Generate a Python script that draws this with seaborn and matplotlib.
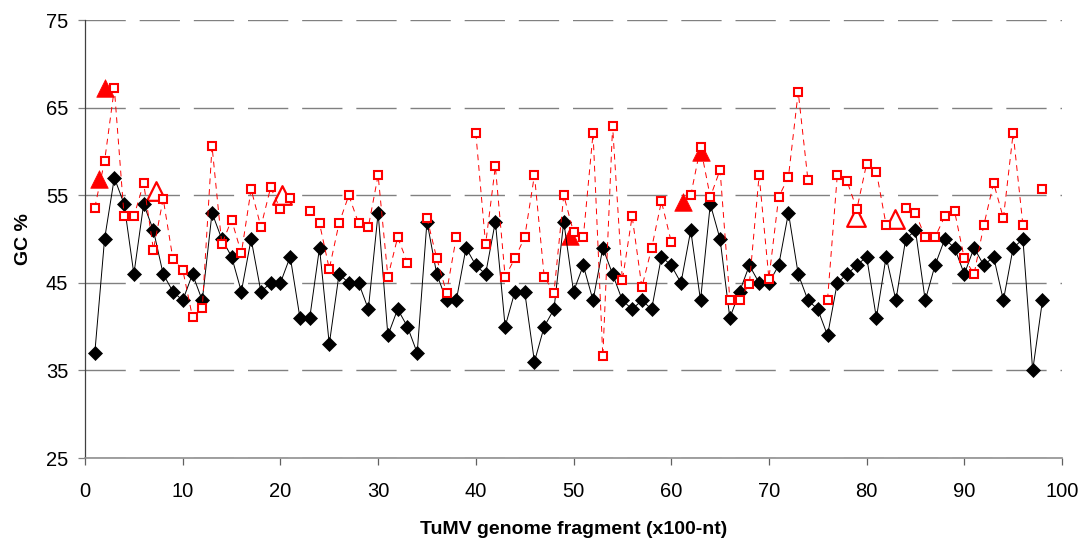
import numpy as np
import pandas as pd
import matplotlib
matplotlib.use('Agg')
import matplotlib.pyplot as plt
import seaborn as sns

# Fragment positions (x100-nt)
fragments = list(range(1, 99))

# GC % of the TuMV genome fragments (black diamonds)
gc_tumv = [37, 50, 57, 54, 46, 54, 51, 46, 44, 43,
           46, 43, 53, 50, 48, 44, 50, 44, 45, 45,
           48, 41, 41, 49, 38, 46, 45, 45, 42, 53,
           39, 42, 40, 37, 52, 46, 43, 43, 49, 47,
           46, 52, 40, 44, 44, 36, 40, 42, 52, 44,
           47, 43, 49, 46, 43, 42, 43, 42, 48, 47,
           45, 51, 43, 54, 50, 41, 44, 47, 45, 45,
           47, 53, 46, 43, 42, 39, 45, 46, 47, 48,
           41, 48, 43, 50, 51, 43, 47, 50, 49, 46,
           49, 47, 48, 43, 49, 50, 35, 43]

# Second GC % series (red open squares), None = no value
gc_other = [53.6, 58.9, 67.2, 52.6, 52.6, 56.4, 48.8, 54.6, 47.7, 46.5,
            41.1, 42.1, 60.6, 49.4, 52.2, 48.4, 55.7, 51.4, 55.9, 53.4,
            54.7, None, 53.2, 51.8, 46.6, 51.8, 55.0, 51.8, 51.4, 57.3,
            45.7, 50.2, 47.3, None, 52.4, 47.8, 43.9, 50.2, None, 62.1,
            49.4, 58.3, 45.7, 47.8, 50.2, 57.3, 45.7, 43.9, 55.0, 50.8,
            50.2, 62.1, 36.6, 62.9, 45.3, 52.6, 44.5, 49.0, 54.3, 49.7,
            None, 55.0, 60.5, 54.8, 57.9, 43.1, 43.1, 44.9, 57.3, 45.5,
            54.8, 57.1, 66.8, 56.7, None, 43.1, 57.3, 56.6, 53.4, 58.6,
            57.7, 51.6, None, 53.6, 53.0, 50.2, 50.2, 52.6, 53.2, 47.8,
            46.0, 51.6, 56.4, 52.4, 62.1, 51.6, None, 55.7]

# Filled and open red triangles
filled_x = [1.4, 2.0, 49.6, 61.2, 63.0]
filled_y = [56.9, 67.3, 50.4, 54.2, 60.0]
open_x = [7.3, 20.2, 78.9, 82.9]
open_y = [55.5, 55.0, 52.5, 52.3]

sns.set_style('white')
plt.rcParams['font.family'] = ['Liberation Sans', 'DejaVu Sans']
plt.rcParams['text.color'] = 'black'
plt.rcParams['axes.labelcolor'] = 'black'

df_black = pd.DataFrame({'fragment': fragments, 'gc': gc_tumv})

# keep the gaps in the red line: one unit per run of values
df_red = pd.DataFrame({'fragment': fragments,
                       'gc': [np.nan if v is None else v for v in gc_other]})
df_red['segment'] = df_red['gc'].isna().cumsum()
df_red = df_red.dropna()

fig = plt.figure(figsize=(10.86, 5.44), dpi=100)
ax = fig.add_axes([0.0783, 0.158, 0.8996, 0.805])

# triangles under the lines
sns.scatterplot(x=filled_x, y=filled_y, marker='^', s=160, color='red',
                edgecolor='red', linewidth=0.5, ax=ax, zorder=2)
sns.scatterplot(x=open_x, y=open_y, marker='^', s=180, facecolor='white',
                edgecolor='red', linewidth=1.6, ax=ax, zorder=2)

sns.lineplot(data=df_black, x='fragment', y='gc', estimator=None, color='black',
             linewidth=0.7, marker='D', markersize=6.8, markerfacecolor='black',
             markeredgecolor='black', markeredgewidth=0.5, ax=ax, zorder=3)

sns.lineplot(data=df_red, x='fragment', y='gc', units='segment', estimator=None,
             color='red', linewidth=0.7, linestyle=(0, (6, 5)), marker='s',
             markersize=6.2, markerfacecolor='white', markeredgecolor='red',
             markeredgewidth=1.5, ax=ax, zorder=4)

ax.set_xlim(0, 100)
ax.set_ylim(25, 75)
ax.set_xticks(range(0, 101, 10))
ax.set_yticks(range(25, 76, 10))

ax.yaxis.grid(True, color='#808080', linestyle=(0, (29, 10)), linewidth=1)
ax.xaxis.grid(False)
ax.set_axisbelow(True)

for side in ['top', 'right']:
    ax.spines[side].set_visible(False)
ax.spines['left'].set_color('#404040')
ax.spines['left'].set_linewidth(0.9)
ax.spines['bottom'].set_color('#909090')
ax.spines['bottom'].set_linewidth(1.2)

ax.tick_params(axis='y', direction='out', length=5, width=0.9, color='#808080',
               labelcolor='black', pad=7, labelsize=14.5, left=True)
ax.tick_params(axis='x', direction='out', length=5, width=0.9, color='#606060',
               labelcolor='black', pad=12, labelsize=14.5, bottom=True)

ax.set_xlabel('TuMV genome fragment (x100-nt)', fontsize=14, fontweight='bold', labelpad=15)
ax.set_ylabel('GC %', fontsize=14, fontweight='bold', labelpad=10)

plt.savefig('out.png', dpi=100)
